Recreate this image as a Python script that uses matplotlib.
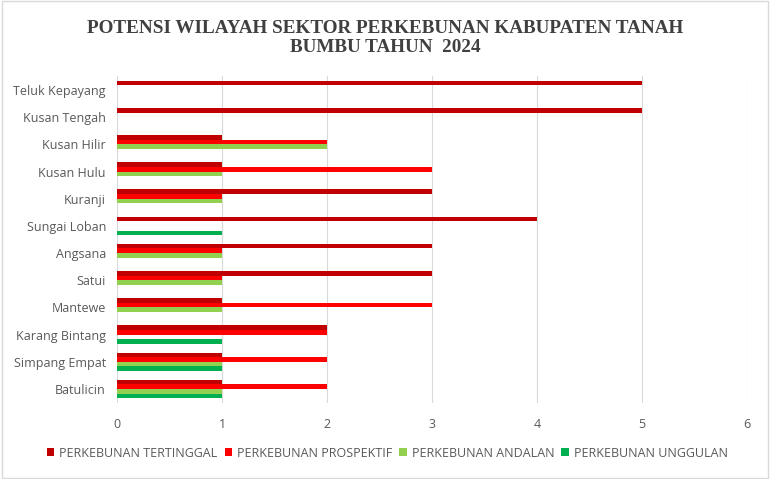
import matplotlib.pyplot as plt
import numpy as np
from matplotlib.patches import Rectangle

kecamatan = ["Teluk Kepayang", "Kusan Tengah", "Kusan Hilir", "Kusan Hulu", "Kuranji",
             "Sungai Loban", "Angsana", "Satui", "Mantewe", "Karang Bintang",
             "Simpang Empat", "Batulicin"]
tertinggal = [5, 5, 1, 1, 3, 4, 3, 3, 1, 2, 1, 1]
prospektif = [0, 0, 2, 3, 1, 0, 1, 1, 3, 2, 2, 2]
andalan = [0, 0, 2, 1, 1, 0, 1, 1, 1, 0, 1, 1]
unggulan = [0, 0, 0, 0, 0, 1, 0, 0, 0, 1, 1, 1]

series = [
    ("PERKEBUNAN TERTINGGAL", tertinggal, "#C00000"),
    ("PERKEBUNAN PROSPEKTIF", prospektif, "#FF0000"),
    ("PERKEBUNAN ANDALAN", andalan, "#92D050"),
    ("PERKEBUNAN UNGGULAN", unggulan, "#00B050"),
]

fig = plt.figure(figsize=(7.7, 4.79), dpi=100)
ax = fig.add_axes([0.152, 0.1595, 0.818, 0.681])

h = 0.17
y = np.arange(len(kecamatan))
for i, (name, vals, col) in enumerate(series):
    ax.barh(y + (i - 1.5) * h, vals, height=h, color=col, label=name, zorder=3)

ax.set_ylim(len(kecamatan) - 0.5, -0.5)
ax.set_xlim(0, 6)
ax.set_xticks(range(7))
ax.set_yticks(y)
ax.set_yticklabels(kecamatan)
ax.grid(axis="x", color="#D9D9D9", linewidth=0.8, zorder=0)
for s in ax.spines.values():
    s.set_visible(False)
ax.tick_params(length=0, labelsize=9, colors="#595959", pad=8)
ax.tick_params(axis="x", pad=11)
for lab in ax.get_xticklabels() + ax.get_yticklabels():
    lab.set_family("Open Sans")

fig.suptitle("POTENSI WILAYAH SEKTOR PERKEBUNAN KABUPATEN TANAH\nBUMBU TAHUN  2024",
             y=0.958, fontsize=13.8, fontweight="bold", family="Liberation Serif",
             color="#404040", linespacing=1.15)

fig.legend(loc="center", bbox_to_anchor=(0.503, 0.054), ncol=4, frameon=False,
           handlelength=0.6, handleheight=0.6, handletextpad=0.4, columnspacing=0.55,
           prop={"family": "Open Sans", "size": 9}, labelcolor="#595959")

fig.patches.append(Rectangle((0.002, 0.002), 0.996, 0.996, transform=fig.transFigure,
                             fill=False, edgecolor="#D9D9D9", linewidth=1))

fig.savefig("out.png", dpi=100)
